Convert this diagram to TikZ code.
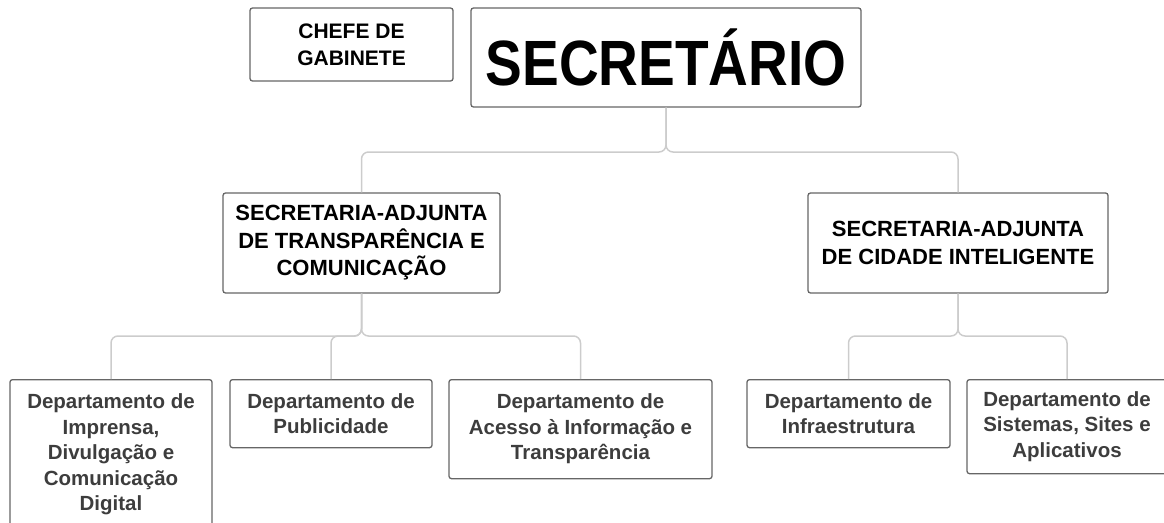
\documentclass[tikz,border=0pt]{standalone}
\usepackage{fontspec}
\setmainfont{Liberation Sans}
\newfontfamily\narrowfont[FakeStretch=0.86]{Liberation Sans}
\definecolor{boxline}{HTML}{666666}
\definecolor{linkgray}{HTML}{CCCCCC}
\definecolor{depttext}{HTML}{3D3D3D}
\tikzset{
	unit/.style={draw=boxline, line width=1.3pt, rounded corners=2.5pt, fill=white, align=center, inner sep=0pt},
	head/.style={unit, font=\bfseries\fontsize{22}{27.5}\selectfont},
	dept/.style={unit, anchor=north, text=depttext, font=\bfseries\fontsize{20.5}{25.5}\selectfont},
	link/.style={draw=linkgray, line width=1.5pt, rounded corners=7pt},
}

\begin{document}
\begin{tikzpicture}[x=1pt, y=-1pt]
			%%%%% START %%%%%
			\useasboundingbox (0, 0) rectangle (1164, 522);
			
			% top level
			\node[unit, minimum width=203pt, minimum height=73pt, font=\bfseries\fontsize{21}{27}\selectfont] (chefe) at (351.5, 44.5) {CHEFE DE\\GABINETE};
			\node[unit, minimum width=390pt, minimum height=99pt, font=\narrowfont\bfseries\fontsize{64}{64}\selectfont] (sec) at (666, 57.5) {SECRETÁRIO};
			
			% secretarias-adjuntas
			\node[head, minimum width=277pt, minimum height=100pt] (sa1) at (361.5, 243) {SECRETARIA-ADJUNTA\\DE TRANSPARÊNCIA E\\COMUNICAÇÃO};
			\node[head, minimum width=300pt, minimum height=100pt] (sa2) at (958, 243) {SECRETARIA-ADJUNTA\\DE CIDADE INTELIGENTE};
			
			% departamentos
			\node[dept, minimum width=202pt, minimum height=150pt] (imp) at (111, 379) {Departamento de\\Imprensa,\\Divulgação e\\Comunicação\\Digital};
			\node[dept, minimum width=202pt, minimum height=68pt] (pub) at (331, 379) {Departamento de\\Publicidade};
			\node[dept, minimum width=263pt, minimum height=99pt] (ace) at (580.5, 379) {Departamento de\\Acesso à Informação e\\Transparência};
			\node[dept, minimum width=203pt, minimum height=68pt] (inf) at (848.5, 379) {Departamento de\\Infraestrutura};
			\node[dept, minimum width=200pt, minimum height=94pt] (sis) at (1067, 379) {Departamento de\\Sistemas, Sites e\\Aplicativos};
			
			% connectors
			\coordinate (busA) at (0, 152);
			\coordinate (busB) at (0, 336);
			
			\draw[link] (sec.south) -- (sec.south |- busA) -| (sa1.north);
			\draw[link] (sec.south) -- (sec.south |- busA) -| (sa2.north);
			
			\draw[link] (sa1.south) -- (sa1.south |- busB) -| (imp.north);
			\draw[link] (sa1.south) -- (sa1.south |- busB) -| (pub.north);
			\draw[link] (sa1.south) -- (sa1.south |- busB) -| (ace.north);
			
			\draw[link] (sa2.south) -- (sa2.south |- busB) -| (inf.north);
			\draw[link] (sa2.south) -- (sa2.south |- busB) -| (sis.north);
			%%%%% END %%%%%
\end{tikzpicture}
\end{document}
